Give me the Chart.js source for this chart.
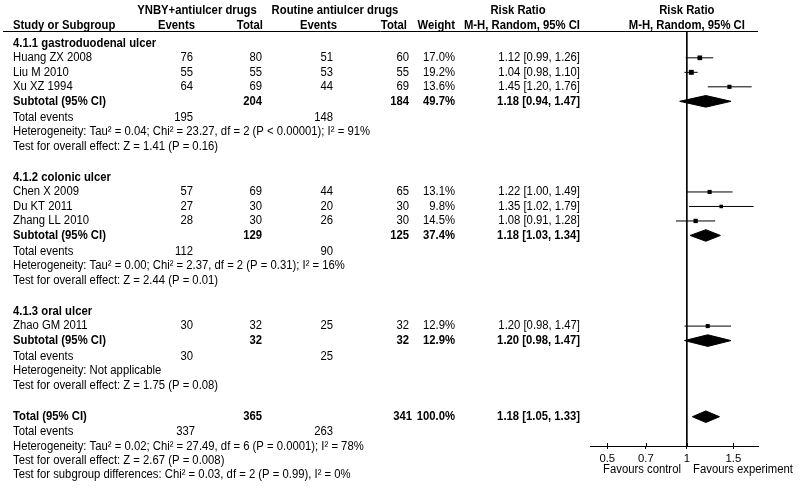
<!DOCTYPE html>
<html>
<head>
<meta charset="utf-8">
<script src="https://cdn.jsdelivr.net/npm/chart.js@4.4.1/dist/chart.umd.min.js"></script>
<style>
  body { margin: 0; background: #fff; }
  #forestChart { display: block; }
</style>
</head>
<body>
<canvas id="forestChart" width="800" height="490"></canvas>
<script>
// --- Data ---
const groupNames = ['4.1.1 gastroduodenal ulcer', '4.1.2 colonic ulcer', '4.1.3 oral ulcer'];

const studies = ['Huang ZX 2008', 'Liu M 2010', 'Xu XZ 1994', 'Chen X 2009', 'Du KT 2011', 'Zhang LL 2010', 'Zhao GM 2011'];
const studyGroup = [0, 0, 0, 1, 1, 1, 2];
const expEvents = [76, 55, 64, 57, 27, 28, 30];
const expTotal = [80, 55, 69, 69, 30, 30, 32];
const ctlEvents = [51, 53, 44, 44, 20, 26, 25];
const ctlTotal = [60, 55, 69, 65, 30, 30, 32];
const weights = [17.0, 19.2, 13.6, 13.1, 9.8, 14.5, 12.9];
const riskRatio = [1.12, 1.04, 1.45, 1.22, 1.35, 1.08, 1.20];
const ciLow = [0.99, 0.98, 1.20, 1.00, 1.02, 0.91, 0.98];
const ciHigh = [1.26, 1.10, 1.76, 1.49, 1.79, 1.28, 1.47];

const subExpTotal = [204, 129, 32];
const subCtlTotal = [184, 125, 32];
const subExpEvents = [195, 112, 30];
const subCtlEvents = [148, 90, 25];
const subWeight = [49.7, 37.4, 12.9];
const subRR = [1.18, 1.18, 1.20];
const subLow = [0.94, 1.03, 0.98];
const subHigh = [1.47, 1.34, 1.47];
const subHet = [
  'Heterogeneity: Tau² = 0.04; Chi² = 23.27, df = 2 (P < 0.00001); I² = 91%',
  'Heterogeneity: Tau² = 0.00; Chi² = 2.37, df = 2 (P = 0.31); I² = 16%',
  'Heterogeneity: Not applicable'
];
const subTest = [
  'Test for overall effect: Z = 1.41 (P = 0.16)',
  'Test for overall effect: Z = 2.44 (P = 0.01)',
  'Test for overall effect: Z = 1.75 (P = 0.08)'
];

const totalExp = 365, totalCtl = 341;
const totalExpEvents = 337, totalCtlEvents = 263;
const totalWeight = 100.0;
const totalRR = 1.18, totalLow = 1.05, totalHigh = 1.33;
const totalHet = 'Heterogeneity: Tau² = 0.02; Chi² = 27.49, df = 6 (P = 0.0001); I² = 78%';
const totalTest = 'Test for overall effect: Z = 2.67 (P = 0.008)';
const subgroupDiff = 'Test for subgroup differences: Chi² = 0.03, df = 2 (P = 0.99), I² = 0%';

const tickVals = [0.5, 0.7, 1, 1.5];
const favourLabels = ['Favours control', 'Favours experiment'];

// --- Row layout (in row units) ---
const studyRow = [];
const groupRows = [];
let u = 0;
groupNames.forEach((g, gi) => {
  const rows = { header: u };
  studyGroup.forEach((sg, si) => {
    if (sg === gi) { u += 1; studyRow[si] = u; }
  });
  u += 1; rows.subtotal = u;
  u += 1.1; rows.events = u;
  u += 1; rows.het = u;
  u += 1; rows.test = u;
  u += 2.15;
  groupRows.push(rows);
});
const totalRows = { total: u, events: u + 1.05, het: u + 2.05, test: u + 3.02, diff: u + 4.0 };

const yMin = -0.85, yMax = 27.77;
const diamondH = 0.4;

function fmtRR(est, lo, hi) {
  return est.toFixed(2) + ' [' + lo.toFixed(2) + ', ' + hi.toFixed(2) + ']';
}

function diamond(est, lo, hi, row) {
  return [
    { x: lo, y: row }, { x: est, y: row - diamondH },
    { x: hi, y: row }, { x: est, y: row + diamondH }, { x: lo, y: row }
  ];
}

// --- Datasets ---
let datasets = [];

datasets.push({
  data: [{ x: 1, y: yMin }, { x: 1, y: yMax }],
  showLine: true, borderColor: '#000', borderWidth: 1, pointRadius: 0
});

studies.forEach((s, i) => {
  datasets.push({
    data: [{ x: ciLow[i], y: studyRow[i] }, { x: ciHigh[i], y: studyRow[i] }],
    showLine: true, borderColor: '#000', borderWidth: 1, pointRadius: 0
  });
});

datasets.push({
  data: studies.map((s, i) => ({ x: riskRatio[i], y: studyRow[i] })),
  pointStyle: 'rect',
  pointRadius: ctx => 0.8 * Math.sqrt(weights[ctx.dataIndex]),
  backgroundColor: '#000', borderColor: '#000', borderWidth: 0
});

groupNames.forEach((g, gi) => {
  datasets.push({
    data: diamond(subRR[gi], subLow[gi], subHigh[gi], groupRows[gi].subtotal),
    showLine: true, fill: 'shape', tension: 0,
    borderColor: '#000', backgroundColor: '#000', borderWidth: 1, pointRadius: 0
  });
});

datasets.push({
  data: diamond(totalRR, totalLow, totalHigh, totalRows.total),
  showLine: true, fill: 'shape', tension: 0,
  borderColor: '#000', backgroundColor: '#000', borderWidth: 1, pointRadius: 0
});

// --- Text table plugin ---
const FONT = '"Liberation Sans", Arial, sans-serif';
const FSIZE = 11.3;
const col = { study: 13, ev1: 193, tot1: 262, ev2: 333, tot2: 409, weight: 455, rr: 580 };

const forestText = {
  id: 'forestText',
  afterDraw(chart) {
    const ctx = chart.ctx;
    const ys = chart.scales.y;
    const xs = chart.scales.x;
    const area = chart.chartArea;

    ctx.save();
    ctx.fillStyle = '#000';
    ctx.textBaseline = 'middle';

    function put(s, x, py, align, bold) {
      ctx.save();
      ctx.font = (bold ? 'bold ' : '') + FSIZE + 'px ' + FONT;
      ctx.textAlign = align || 'left';
      ctx.translate(x, py);
      ctx.scale(1, 1.08);
      ctx.fillText(s, 0, 0);
      ctx.restore();
    }
    function txt(s, x, row, align, bold) {
      put(s, x, ys.getPixelForValue(row), align, bold);
    }

    // header
    txt('YNBY+antiulcer drugs', 197, -2.25, 'center', true);
    txt('Routine antiulcer drugs', 335, -2.25, 'center', true);
    txt('Risk Ratio', 518, -2.25, 'center', true);
    txt('Risk Ratio', xs.getPixelForValue(1), -2.25, 'center', true);
    txt('Study or Subgroup', col.study, -1.25, 'left', true);
    txt('Events', 195, -1.25, 'right', true);
    txt('Total', 263, -1.25, 'right', true);
    txt('Events', 337, -1.25, 'right', true);
    txt('Total', 407, -1.25, 'right', true);
    txt('Weight', col.weight, -1.25, 'right', true);
    txt('M-H, Random, 95% CI', col.rr, -1.25, 'right', true);
    txt('M-H, Random, 95% CI', xs.getPixelForValue(1), -1.25, 'center', true);

    ctx.strokeStyle = '#000';
    ctx.lineWidth = 1;
    ctx.beginPath();
    ctx.moveTo(3, area.top + 0.5);
    ctx.lineTo(area.right, area.top + 0.5);
    ctx.stroke();

    // groups
    groupNames.forEach((g, gi) => {
      const r = groupRows[gi];
      txt(g, col.study, r.header, 'left', true);
      studies.forEach((s, si) => {
        if (studyGroup[si] !== gi) return;
        const row = studyRow[si];
        txt(s, col.study, row);
        txt(String(expEvents[si]), col.ev1, row, 'right');
        txt(String(expTotal[si]), col.tot1, row, 'right');
        txt(String(ctlEvents[si]), col.ev2, row, 'right');
        txt(String(ctlTotal[si]), col.tot2, row, 'right');
        txt(weights[si].toFixed(1) + '%', col.weight, row, 'right');
        txt(fmtRR(riskRatio[si], ciLow[si], ciHigh[si]), col.rr, row, 'right');
      });
      txt('Subtotal (95% CI)', col.study, r.subtotal, 'left', true);
      txt(String(subExpTotal[gi]), col.tot1, r.subtotal, 'right', true);
      txt(String(subCtlTotal[gi]), col.tot2, r.subtotal, 'right', true);
      txt(subWeight[gi].toFixed(1) + '%', col.weight, r.subtotal, 'right', true);
      txt(fmtRR(subRR[gi], subLow[gi], subHigh[gi]), col.rr, r.subtotal, 'right', true);
      txt('Total events', col.study, r.events);
      txt(String(subExpEvents[gi]), col.ev1, r.events, 'right');
      txt(String(subCtlEvents[gi]), col.ev2, r.events, 'right');
      txt(subHet[gi], col.study, r.het);
      txt(subTest[gi], col.study, r.test);
    });

    // overall
    txt('Total (95% CI)', col.study, totalRows.total, 'left', true);
    txt(String(totalExp), col.tot1, totalRows.total, 'right', true);
    txt(String(totalCtl), col.tot2 + 3, totalRows.total, 'right', true);
    txt(totalWeight.toFixed(1) + '%', col.weight, totalRows.total, 'right', true);
    txt(fmtRR(totalRR, totalLow, totalHigh), col.rr, totalRows.total, 'right', true);
    txt('Total events', col.study, totalRows.events);
    txt(String(totalExpEvents), col.ev1 + 2, totalRows.events, 'right');
    txt(String(totalCtlEvents), col.ev2, totalRows.events, 'right');
    txt(totalHet, col.study, totalRows.het);
    txt(totalTest, col.study, totalRows.test);
    txt(subgroupDiff, col.study, totalRows.diff);

    // favours labels under the axis
    put(favourLabels[0], 642, 470, 'center');
    put(favourLabels[1], 743, 470, 'center');

    // tick marks also rise above the axis
    ctx.beginPath();
    tickVals.forEach(v => {
      const px = Math.round(xs.getPixelForValue(v)) + 0.5;
      ctx.moveTo(px, area.bottom - 3);
      ctx.lineTo(px, area.bottom);
    });
    ctx.stroke();
    ctx.restore();
  }
};

// --- Chart ---
document.addEventListener('DOMContentLoaded', function () {
  let forestCanvas = document.getElementById('forestChart').getContext('2d');

  new Chart(forestCanvas, {
    type: 'scatter',
    data: { datasets: datasets },
    options: {
      responsive: false,
      animation: false,
      layout: { padding: { left: 590, right: 42, top: 31, bottom: 0 } },
      scales: {
        x: {
          type: 'logarithmic',
          min: 0.43,
          max: 1.86,
          afterBuildTicks: axis => { axis.ticks = tickVals.map(v => ({ value: v })); },
          afterFit: scale => { scale.height = 44; },
          ticks: {
            color: '#000',
            padding: 3,
            autoSkip: false,
            maxRotation: 0,
            font: { size: FSIZE, family: FONT },
            callback: v => String(v)
          },
          grid: { drawOnChartArea: false, drawTicks: true, tickLength: 3, color: '#000' },
          border: { display: true, color: '#000', width: 1 }
        },
        y: {
          type: 'linear',
          reverse: true,
          min: yMin,
          max: yMax,
          display: false
        }
      },
      plugins: {
        legend: { display: false },
        tooltip: { enabled: false }
      }
    },
    plugins: [forestText]
  });
});
</script>
</body>
</html>
